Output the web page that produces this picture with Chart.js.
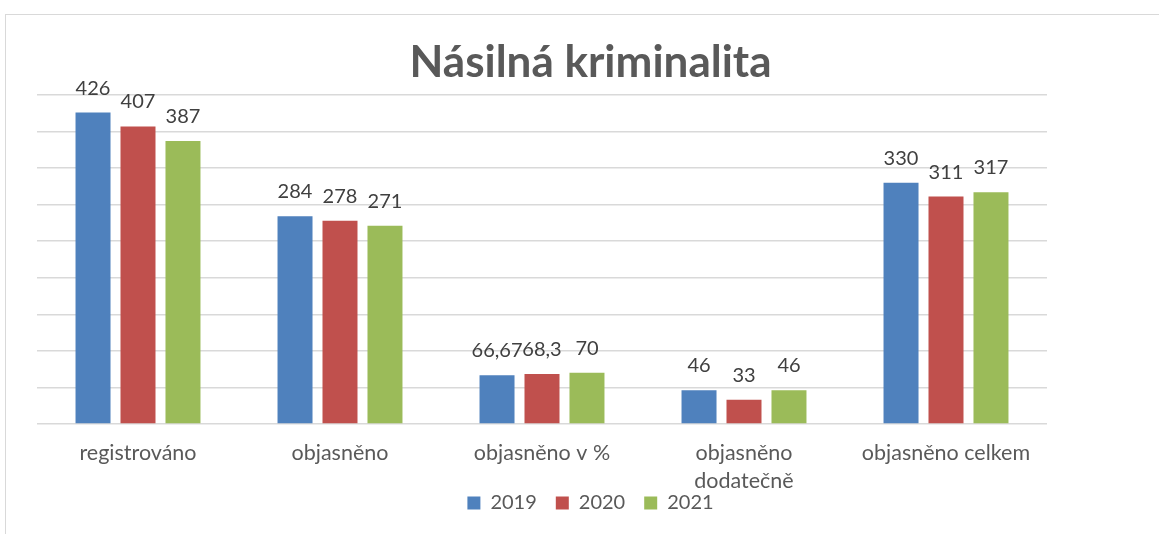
<!DOCTYPE html>
<html>
<head>
<meta charset="utf-8">
<script src="https://cdn.jsdelivr.net/npm/chart.js@4/dist/chart.umd.min.js"></script>
<style>
  html, body { margin: 0; padding: 0; background: #ffffff; overflow: hidden; }
  #ramecek { position: absolute; left: 5px; top: 14px; width: 1300px; height: 700px; border: 1.5px solid #d9d9d9; }
  #obal { position: absolute; left: 0; top: 0; width: 1159px; height: 534px; }
</style>
</head>
<body>
<div id="ramecek"></div>
<div id="obal"><canvas id="barChart"></canvas></div>
<script>
// data
var kategorie = ['registrováno', 'objasněno', 'objasněno v %', ['objasněno', 'dodatečně'], 'objasněno celkem'];
var roky = ['2019', '2020', '2021'];
var hodnoty2019 = [426, 284, 66.67, 46, 330];
var hodnoty2020 = [407, 278, 68.3, 33, 311];
var hodnoty2021 = [387, 271, 70, 46, 317];
var barvy = ['#4f81bd', '#c0504d', '#9bbb59'];

// value labels above each bar, czech decimal comma
var popisky = {
  id: 'popisky',
  afterDatasetsDraw: function (chart) {
    var ctx = chart.ctx;
    ctx.save();
    ctx.font = '20px Lato';
    ctx.fillStyle = '#404040';
    ctx.textAlign = 'center';
    ctx.textBaseline = 'alphabetic';
    chart.data.datasets.forEach(function (ds, i) {
      var meta = chart.getDatasetMeta(i);
      meta.data.forEach(function (bar, j) {
        var text = String(ds.data[j]).replace('.', ',');
        ctx.fillText(text, bar.x, bar.y - 18);
      });
    });
    ctx.restore();
  }
};

// the two-line category label runs past the axis box, so do not clip it
var bezOrezu = {
  id: 'bezOrezu',
  beforeDraw: function (chart) {
    chart.scales.x._computeLabelArea = function () { return undefined; };
  }
};

var barChartCanvas = document.getElementById('barChart').getContext('2d');

new Chart(barChartCanvas, {
  type: 'bar',
  data: {
    labels: kategorie,
    datasets: [
      { label: roky[0], data: hodnoty2019, backgroundColor: barvy[0] },
      { label: roky[1], data: hodnoty2020, backgroundColor: barvy[1] },
      { label: roky[2], data: hodnoty2021, backgroundColor: barvy[2] }
    ]
  },
  options: {
    responsive: true,
    maintainAspectRatio: false,
    animation: false,
    categoryPercentage: 0.668,
    barPercentage: 0.778,
    layout: { padding: { left: 22, right: 0, top: 0, bottom: 11 } },
    plugins: {
      title: {
        display: true,
        text: 'Násilná kriminalita',
        color: '#595959',
        font: { family: 'Lato', size: 44, weight: 'bold', lineHeight: 1.2 },
        padding: { top: 36, bottom: 6.2 }
      },
      legend: {
        position: 'bottom',
        labels: {
          boxWidth: 13,
          boxHeight: 13,
          padding: 19,
          color: '#595959',
          font: { family: 'Lato', size: 20 }
        }
      },
      tooltip: { enabled: false }
    },
    scales: {
      x: {
        grid: { display: false },
        border: { display: false },
        ticks: {
          color: '#595959',
          padding: 8,
          font: { family: 'Lato', size: 21.5, lineHeight: 1.26 }
        },
        afterFit: function (axis) { axis.height = 50; }
      },
      y: {
        min: 0,
        max: 450,
        ticks: { display: false, stepSize: 50 },
        grid: { color: '#d9d9d9', lineWidth: 1.5, drawTicks: false },
        border: { display: false },
        afterFit: function (axis) { axis.width = 15; }
      },
      y2: {
        position: 'right',
        display: true,
        grid: { display: false },
        ticks: { display: false },
        border: { display: false },
        afterFit: function (axis) { axis.width = 112; }
      }
    }
  },
  plugins: [popisky, bezOrezu]
});
</script>
</body>
</html>
